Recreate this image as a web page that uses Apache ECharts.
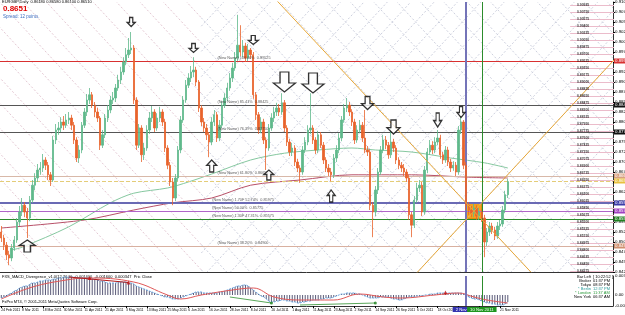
<!DOCTYPE html>
<html><head><meta charset="utf-8">
<script src="https://cdn.jsdelivr.net/npm/echarts@6/dist/echarts.min.js"></script>
<style>html,body{margin:0;padding:0;background:#fff;}#c{width:625px;height:315px;}</style>
</head><body><div id="c"></div>
<script>
// ---------- DATA ----------
const tickBars = [0,8,16,24,32,40,48,56,64,72,80,88,96,104,112,120,128,136,144,152,160,168,176,184,192];
const tickLabels = ["24 Feb 2011","8 Mar 2011","18 Mar 2011","30 Mar 2011","11 Apr 2011","21 Apr 2011","3 May 2011","13 May 2011","25 May 2011","6 Jun 2011","16 Jun 2011","28 Jun 2011","8 Jul 2011","20 Jul 2011","1 Aug 2011","11 Aug 2011","23 Aug 2011","2 Sep 2011","14 Sep 2011","26 Sep 2011","6 Oct 2011","18 Oct 2011","28 Oct 2011","9 Nov 2011","21 Nov 2011"];

const firstOpen = 0.8525;
const closes = [0.8510,0.8492,0.8468,0.8460,0.8485,0.8505,0.8550,0.8575,0.8592,0.8575,
0.8560,0.8605,0.8642,0.8660,0.8680,0.8685,0.8705,0.8692,0.8668,0.8655,
0.8755,0.8780,0.8785,0.8800,0.8792,0.8805,0.8810,0.8792,0.8755,0.8710,
0.8730,0.8792,0.8825,0.8855,0.8868,0.8842,0.8825,0.8810,0.8742,0.8768,
0.8810,0.8830,0.8855,0.8860,0.8885,0.8905,0.8925,0.8950,0.8968,0.8980,
0.8985,0.8855,0.8742,0.8785,0.8718,0.8735,0.8780,0.8810,0.8825,0.8785,
0.8810,0.8825,0.8800,0.8735,0.8692,0.8650,0.8610,0.8660,0.8730,0.8805,
0.8855,0.8892,0.8910,0.8925,0.8930,0.8900,0.8835,0.8800,0.8785,0.8768,
0.8750,0.8800,0.8818,0.8760,0.8792,0.8842,0.8860,0.8885,0.8910,0.8935,
0.8960,0.8992,0.8975,0.8990,0.8960,0.8980,0.8968,0.8868,0.8818,0.8780,
0.8800,0.8755,0.8735,0.8785,0.8810,0.8825,0.8835,0.8825,0.8848,0.8785,
0.8750,0.8725,0.8735,0.8700,0.8685,0.8675,0.8730,0.8750,0.8780,0.8785,
0.8755,0.8730,0.8768,0.8742,0.8705,0.8685,0.8675,0.8668,0.8710,0.8730,
0.8760,0.8805,0.8835,0.8842,0.8825,0.8800,0.8755,0.8780,0.8792,0.8760,
0.8730,0.8725,0.8592,0.8575,0.8630,0.8675,0.8730,0.8755,0.8742,0.8718,
0.8750,0.8735,0.8705,0.8692,0.8685,0.8675,0.8660,0.8568,0.8542,0.8605,
0.8635,0.8642,0.8575,0.8680,0.8725,0.8742,0.8730,0.8750,0.8760,0.8718,
0.8705,0.8730,0.8700,0.8685,0.8692,0.8675,0.8780,0.8800,0.8692,0.8592,
0.8580,0.8572,0.8585,0.8565,0.8575,0.8560,0.8500,0.8525,0.8540,0.8530,
0.8515,0.8540,0.8545,0.8580,0.8618,0.8651];
const highs = [0.8540,0.8518,0.8500,0.8478,0.8495,0.8515,0.8560,0.8590,0.8610,0.8600,
0.8585,0.8615,0.8655,0.8672,0.8695,0.8700,0.8720,0.8712,0.8700,0.8675,
0.8765,0.8795,0.8800,0.8812,0.8815,0.8820,0.8825,0.8818,0.8800,0.8762,
0.8742,0.8800,0.8835,0.8870,0.8885,0.8875,0.8850,0.8835,0.8815,0.8780,
0.8820,0.8842,0.8865,0.8875,0.8895,0.8918,0.8938,0.8962,0.8985,0.9010,
0.9025,0.8992,0.8862,0.8795,0.8792,0.8748,0.8792,0.8825,0.8840,0.8832,
0.8822,0.8838,0.8832,0.8808,0.8742,0.8700,0.8660,0.8670,0.8740,0.8815,
0.8865,0.8905,0.8922,0.8940,0.8962,0.8938,0.8905,0.8842,0.8810,0.8795,
0.8775,0.8812,0.8830,0.8825,0.8805,0.8852,0.8872,0.8898,0.8922,0.8948,
0.8975,0.9068,0.9042,0.9005,0.8998,0.8995,0.8985,0.8975,0.8875,0.8825,
0.8812,0.8808,0.8762,0.8795,0.8822,0.8838,0.8848,0.8845,0.8872,0.8855,
0.8792,0.8758,0.8748,0.8742,0.8708,0.8692,0.8740,0.8762,0.8792,0.8872,
0.8792,0.8762,0.8778,0.8775,0.8750,0.8712,0.8695,0.8685,0.8720,0.8742,
0.8772,0.8815,0.8845,0.8860,0.8850,0.8832,0.8808,0.8792,0.8805,0.8800,
0.8830,0.8740,0.8732,0.8600,0.8640,0.8685,0.8740,0.8768,0.8765,0.8750,
0.8785,0.8758,0.8742,0.8712,0.8700,0.8695,0.8682,0.8668,0.8575,0.8615,
0.8648,0.8655,0.8650,0.8690,0.8735,0.8755,0.8752,0.8762,0.8780,0.8768,
0.8725,0.8740,0.8738,0.8708,0.8702,0.8700,0.8790,0.8815,0.8805,0.8700,
0.8600,0.8590,0.8595,0.8592,0.8585,0.8582,0.8568,0.8535,0.8550,0.8548,
0.8538,0.8550,0.8555,0.8590,0.8628,0.8658];
const lows = [0.8500,0.8480,0.8455,0.8442,0.8452,0.8478,0.8498,0.8540,0.8565,0.8562,
0.8510,0.8552,0.8598,0.8630,0.8650,0.8668,0.8675,0.8680,0.8655,0.8640,
0.8650,0.8745,0.8768,0.8775,0.8780,0.8785,0.8795,0.8780,0.8745,0.8700,
0.8698,0.8722,0.8785,0.8815,0.8845,0.8835,0.8812,0.8800,0.8730,0.8735,
0.8760,0.8800,0.8822,0.8845,0.8850,0.8878,0.8895,0.8918,0.8942,0.8960,
0.8970,0.8845,0.8730,0.8735,0.8700,0.8705,0.8728,0.8770,0.8800,0.8775,
0.8778,0.8800,0.8790,0.8725,0.8682,0.8640,0.8592,0.8602,0.8652,0.8722,
0.8798,0.8848,0.8885,0.8900,0.8912,0.8890,0.8825,0.8790,0.8775,0.8755,
0.8712,0.8742,0.8790,0.8750,0.8752,0.8785,0.8835,0.8852,0.8878,0.8900,
0.8928,0.8952,0.8965,0.8962,0.8950,0.8952,0.8958,0.8858,0.8805,0.8770,
0.8772,0.8745,0.8680,0.8728,0.8778,0.8800,0.8815,0.8815,0.8818,0.8775,
0.8740,0.8715,0.8715,0.8690,0.8675,0.8648,0.8668,0.8722,0.8742,0.8770,
0.8745,0.8720,0.8722,0.8735,0.8695,0.8675,0.8665,0.8652,0.8660,0.8700,
0.8722,0.8752,0.8798,0.8825,0.8815,0.8790,0.8745,0.8748,0.8772,0.8750,
0.8722,0.8715,0.8580,0.8512,0.8565,0.8620,0.8668,0.8722,0.8732,0.8708,
0.8710,0.8725,0.8695,0.8682,0.8675,0.8665,0.8650,0.8555,0.8512,0.8535,
0.8598,0.8625,0.8565,0.8568,0.8672,0.8718,0.8720,0.8722,0.8742,0.8708,
0.8695,0.8698,0.8690,0.8675,0.8678,0.8665,0.8668,0.8770,0.8682,0.8580,
0.8568,0.8562,0.8562,0.8555,0.8555,0.8550,0.8462,0.8490,0.8515,0.8520,
0.8505,0.8508,0.8530,0.8538,0.8572,0.8610];

const greenMA = [[4,0.8480],[8,0.8487],[26,0.8538],[42,0.8598],[51,0.8622],[64,0.8635],[72,0.8650],[81,0.8670],[96,0.8705],[109,0.8722],[122,0.8730],[135,0.8735],[144,0.8730],[158,0.8725],[173,0.8710],[186,0.8698],[195,0.8685]];
const maroonMA = [[0,0.8535],[32,0.8555],[51,0.8580],[66,0.8598],[81,0.8610],[96,0.8642],[115,0.8655],[135,0.8668],[158,0.8668],[180,0.8662],[195,0.8660]];

const levelPrices = [0.89525,0.88425,0.87750,0.86650,0.86525,0.85975,0.85775,0.85575,0.84900];
const levelTexts = ["(New Name) 100.00%  0.89525","(New Name) 85.41%  0.88425","(New Name) 76.39%  0.87750","(New Name) 61.80%  0.86650","","(New Name) 1.70F 52.74%  0.85975","(New Name) 50.00%  0.85775","(New Name) 1.30F 47.31%  0.85575","(New Name) 38.20%  0.84900"];
const bidPrice = 0.8635;

const vLineBars = [179,185];
const vLineTexts = ["2 Nov 2011","10 Nov 2011"];
const boxBars = [179,185];
const boxPrices = [0.85575,0.85975];

const fanLines = [[[106,0.9104],[204,0.8424]],[[160,0.8423],[236,0.8956]]];

const downArrows = [[50,0.9050],[74,0.8985],[97,0.9005],[109,0.8900],[120,0.88975],[141,0.88475],[151,0.87875],[168,0.8805],[177,0.8825]];
const upArrows = [[10,0.8490],[81,0.8690],[103,0.86675],[127,0.8615]];

const ladderLevels = [0.90925,0.90750,0.90575,0.90400,0.90225,0.90050,0.89875,0.89700,0.89525,0.89350,0.89175,0.89000,0.88825,0.88650,0.88475,0.88300,0.88125,0.87950,0.87775,0.87600,0.87425,0.87250,0.87075,0.86900,0.86725,0.86550,0.86375,0.86200,0.86025,0.85850,0.85675,0.85500,0.85325,0.85150,0.84975,0.84800,0.84625,0.84450,0.84275];

const macd = [-0.0006,-0.0004,-0.0002,0.0002,0.0004,0.0008,0.0010,0.0014,0.0016,0.0018,
0.0018,0.0022,0.0024,0.0024,0.0026,0.0028,0.0028,0.0030,0.0030,0.0030,
0.0032,0.0032,0.0034,0.0034,0.0036,0.0036,0.0036,0.0036,0.0036,0.0034,
0.0034,0.0034,0.0034,0.0034,0.0034,0.0032,0.0032,0.0030,0.0028,0.0028,
0.0026,0.0024,0.0024,0.0024,0.0024,0.0026,0.0026,0.0026,0.0026,0.0024,
0.0024,0.0022,0.0018,0.0016,0.0014,0.0012,0.0010,0.0008,0.0006,0.0004,
0.0002,0,-0.0002,-0.0004,-0.0004,-0.0006,-0.0008,-0.0008,-0.0008,-0.0006,
-0.0004,-0.0002,0,0.0002,0.0004,0.0006,0.0006,0.0006,0.0004,0.0004,
0.0004,0.0004,0.0004,0.0004,0.0006,0.0006,0.0008,0.0010,0.0012,0.0014,
0.0016,0.0018,0.0018,0.0020,0.0020,0.0018,0.0014,0.0010,0.0006,0.0002,
-0.0002,-0.0004,-0.0008,-0.0012,-0.0014,-0.0014,-0.0012,-0.0012,-0.0010,-0.0010,
-0.0012,-0.0012,-0.0014,-0.0014,-0.0016,-0.0016,-0.0014,-0.0014,-0.0012,-0.0012,
-0.0010,-0.0010,-0.0010,-0.0008,-0.0008,-0.0006,-0.0006,-0.0006,-0.0004,-0.0002,
0,0.0002,0.0002,0.0004,0.0004,0.0004,0.0004,0.0002,0.0002,0,
-0.0002,-0.0004,-0.0006,-0.0006,-0.0006,-0.0006,-0.0004,-0.0004,-0.0004,-0.0004,
-0.0006,-0.0008,-0.0008,-0.0010,-0.0010,-0.0008,-0.0006,-0.0004,-0.0004,-0.0004,
-0.0002,-0.0002,-0.0002,0,0,0.0002,0.0002,0.0002,0.0004,0.0004,
0.0004,0.0004,0.0004,0.0004,0.0004,0.0004,0.0004,0.0004,0.0002,0,
-0.0004,-0.0006,-0.0008,-0.0008,-0.0010,-0.0012,-0.0014,-0.0016,-0.0016,-0.0018,
-0.0018,-0.0020,-0.0020,-0.0020,-0.0018,-0.0014];
const signal = [[0,-0.0008],[12,0.0016],[25,0.0030],[33,0.0034],[51,0.0026],[64,0],[69,-0.0008],[77,0],[89,0.0010],[97,0.0014],[105,-0.0004],[115,-0.0010],[128,-0.0010],[138,0.0002],[147,-0.0004],[154,-0.0006],[167,0],[176,0.0004],[182,-0.0004],[187,-0.0010],[195,-0.0016]];
const bearDiv = [[[26,0.0036],[49,0.0025]]];
const bearMarks = [[34,0.0034],[49,0.0025],[171,0.0005]];
const bullDiv = [[[88,-0.0004],[104,-0.0016]],[[115,-0.0020],[144,-0.0016]]];
const bullMarks = [[104,-0.0016],[144,-0.0016]];
const macdAxisTicks = [-0.0022,0,0.0038];

const clockNames = ["Bar Left","Broker","Tokyo","* Berlin","* London","New York"];
const clockTimes = ["[ 10:22:52 ]","01:37 PM","08:37 PM","12:37 PM","11:37 AM","06:37 AM"];

// ---------- STYLE / LAYOUT ----------
const N_SLOTS = 236;                 // bar slots across the window (incl. chart shift)
const slots = Array.from({length:N_SLOTS},(_,i)=>i);
const Y_MIN = 0.8425, Y_MAX = 0.9100;
const levelStyles = [
 {c:'#d83030',w:1,t:'solid',box:'#d83030'},
 {c:'#555555',w:1,t:'solid',box:'#111111'},
 {c:'#555555',w:1,t:'solid',box:'#111111'},
 {c:'#d8b8a8',w:1,t:'solid',box:'#d9a080'},
 {c:'#e4cc78',w:1,t:'dashed',box:'#e8c040'},
 {c:'#6a6ab4',w:2,t:'solid',box:'#3c3ca8'},
 {c:'#b066c8',w:1,t:'solid',box:'#a040c0'},
 {c:'#2a8a2a',w:1,t:'solid',box:'#208020'},
 {c:'#d8b0a0',w:1,t:'solid',box:'#d09070'}
];
const levelLabelBars = [83,83,83,83,83,81,81,81,83];
const downArrowSizes = [[8,9],[9,9],[10,9],[22,20],[22,20],[12,13],[13,14],[8,14],[8,11]];
const upArrowSizes = [[16,12],[10,12],[10,10],[8,12]];
const vLineStyles = [{c:'#7474b8',w:2,box:'#3434b0'},{c:'#2c8c2c',w:1,box:'#1e961e'}];

const opens = [firstOpen].concat(closes.slice(0,-1));
const candles = closes.map((c,k)=>[opens[k],c,lows[k],highs[k]]);

// Gann grid drawing tool: anchor, step and slope
const gannCenter=[182,0.85775], gannStepBars=9, gannSlope=0.0007, gannCrossFrom=77;
function gLine(kc,dir,a,b){
  let k1=kc+(Y_MIN-gannCenter[1])/(dir*gannSlope), k2=kc+(Y_MAX-gannCenter[1])/(dir*gannSlope);
  if(k1>k2){const t=k1;k1=k2;k2=t;}
  const lo=Math.max(a,Math.floor(k1)), hi=Math.min(b,Math.ceil(k2));
  if(hi<=lo) return null;
  return [[lo,gannCenter[1]+dir*gannSlope*(lo-kc)],[hi,gannCenter[1]+dir*gannSlope*(hi-kc)]];
}
const gannSegs=[];
for(let j=-25;j<=16;j++){
  const kc=gannCenter[0]+gannStepBars*j;
  let s=gLine(kc,-1,-1,gannCrossFrom);
  if(s) gannSegs.push({coords:s,lineStyle:{color:'#e4c8d3',type:[2,2],width:1,opacity:1}});
  s=gLine(kc,-1,gannCrossFrom,N_SLOTS+1);
  if(s) gannSegs.push({coords:s,lineStyle:{color:'#cdd0de',type:[2,2],width:1,opacity:1}});
  s=gLine(kc,1,gannCrossFrom,N_SLOTS+1);
  if(s) gannSegs.push({coords:s,lineStyle:{color:'#cdd0de',type:[2,2],width:1,opacity:1}});
}

const FONT='Liberation Sans, Arial, sans-serif';
const downPath='path://M3,0L7,0L7,5.5L10,5.5L5,10L0,5.5L3,5.5Z';
const upPath='path://M5,0L10,4.5L7,4.5L7,10L3,10L3,4.5L0,4.5Z';

const boxLabel=(txt,bg)=>({show:true,position:'end',distance:1,formatter:txt,backgroundColor:bg,color:'#fff',fontSize:4.4,padding:[1,1,0,1],fontFamily:FONT});
const hMarks = levelPrices.map((p,i)=>({yAxis:p,lineStyle:{color:levelStyles[i].c,width:levelStyles[i].w,type:levelStyles[i].t,opacity:1},
  label:boxLabel(p.toFixed(5),levelStyles[i].box)}));
hMarks.push({yAxis:bidPrice,lineStyle:{width:0,opacity:0},label:boxLabel(bidPrice.toFixed(5),'#111')});
const vMarksMain = vLineBars.map((k,i)=>({xAxis:k,lineStyle:{color:vLineStyles[i].c,width:vLineStyles[i].w,type:'solid',opacity:1},label:{show:false}}));
const vMarksMacd = vLineBars.map((k,i)=>({xAxis:k,lineStyle:{color:vLineStyles[i].c,width:vLineStyles[i].w,type:'solid',opacity:1},
  label:{show:true,position:'start',distance:1,formatter:vLineTexts[i],backgroundColor:vLineStyles[i].box,color:'#fff',fontSize:4.2,padding:[1,3,0,3],fontFamily:FONT}}));

const texts=[
 {type:'text',left:2,top:0,style:{text:'EURGBP,Daily  0.86180 0.86580 0.86100 0.86510',fontSize:4,fontFamily:FONT,fill:'#000'}},
 {type:'text',left:3,top:5,style:{text:'0.8651',fontSize:8,fontWeight:'bold',fontFamily:FONT,fill:'#e00000'}},
 {type:'text',left:3,top:14,style:{text:'Spread: 12 points.',fontSize:4.5,fontFamily:FONT,fill:'#3a6cc0'}},
 {type:'text',left:2,top:275,style:{text:'FXS_MACD_Divergence_v1.0(12,26,9)  -0.001400  -0.001600  0.000347  Pric Close',fontSize:4,fontFamily:FONT,fill:'#000'}},
 {type:'text',left:2,top:300,style:{text:'FxPro MT4, \u00a9 2001-2011 MetaQuotes Software Corp.',fontSize:4,fontFamily:FONT,fill:'#000'}}
];
const clockColors=['#000','#000','#000','#2a9a9a','#2a9a3a','#000'];
clockNames.forEach((n,i)=>{
  texts.push({type:'text',x:591,y:275+i*4,style:{text:n,fontSize:4,fontFamily:FONT,fill:clockColors[i],align:'right'}});
  texts.push({type:'text',x:593,y:275+i*4,style:{text:clockTimes[i],fontSize:4,fontFamily:FONT,fill:clockColors[i],align:'left'}});
});

const catAxis=(gi,withLabels)=>({type:'category',gridIndex:gi,data:slots,boundaryGap:true,
  axisLine:{show:true,onZero:false,lineStyle:{color:'#333',width:1}},
  axisTick:{show:withLabels,length:2,alignWithLabel:true,interval:(i)=>tickBars.indexOf(i)>=0,lineStyle:{color:'#000'}},
  axisLabel:{show:withLabels,showMinLabel:true,hideOverlap:false,interval:(i)=>tickBars.indexOf(i)>=0,formatter:(v,i)=>{const t=tickBars.indexOf(Number(v));return t>=0?tickLabels[t]:'';},
    fontSize:3.4,color:'#000',align:'left',margin:3,fontFamily:FONT},
  splitLine:{show:false}});

const option={
 animation:false,
 backgroundColor:'#ffffff',
 textStyle:{fontFamily:FONT},
 grid:[{left:0,right:12,top:2,height:270,containLabel:false,outerBoundsMode:'none'},
       {left:0,right:12,top:276,height:30,containLabel:false,outerBoundsMode:'none'}],
 xAxis:[catAxis(0,false),catAxis(1,true)],
 yAxis:[
  {type:'value',gridIndex:0,position:'right',min:Y_MIN,max:Y_MAX,interval:0.0025,axisLine:{show:true,lineStyle:{color:'#333'}},axisTick:{show:true,length:2,lineStyle:{color:'#000'}},
   axisLabel:{fontSize:4.4,color:'#000',margin:2,formatter:v=>v.toFixed(5),fontFamily:FONT},splitLine:{show:false}},
  {type:'value',gridIndex:1,position:'right',min:-0.0022,max:0.0038,axisLine:{show:true,lineStyle:{color:'#333'}},axisTick:{show:false},
   axisLabel:{fontSize:4.4,color:'#000',margin:2,customValues:macdAxisTicks,formatter:v=>Math.abs(v)<1e-9?'0.00':v.toFixed(6),fontFamily:FONT},splitLine:{show:false}}
 ],
 graphic:texts,
 series:[
  {type:'lines',coordinateSystem:'cartesian2d',xAxisIndex:0,yAxisIndex:0,silent:true,z:1,clip:true,data:gannSegs,lineStyle:{opacity:1}},
  {type:'lines',coordinateSystem:'cartesian2d',xAxisIndex:0,yAxisIndex:0,silent:true,z:2,clip:true,
   data:ladderLevels.map(p=>({coords:[[219,p],[N_SLOTS,p]]})),lineStyle:{color:'#ebbccb',width:1,opacity:1}},
  {type:'line',xAxisIndex:0,yAxisIndex:0,z:3,data:maroonMA,showSymbol:false,smooth:0.3,lineStyle:{color:'#b85068',width:1},
   markLine:{silent:true,symbol:['none','none'],animation:false,precision:5,data:hMarks.concat(vMarksMain)},
   markArea:{silent:true,itemStyle:{color:'#f4a21c',borderColor:'#c87800',borderWidth:1,opacity:1},
     data:[[{xAxis:boxBars[0],yAxis:boxPrices[0]},{xAxis:boxBars[1],yAxis:boxPrices[1]}]]}},
  {type:'line',xAxisIndex:0,yAxisIndex:0,z:4,data:greenMA,showSymbol:false,smooth:0.3,lineStyle:{color:'#86c8a0',width:1}},
  {type:'candlestick',xAxisIndex:0,yAxisIndex:0,z:5,barWidth:1.9,data:candles,
   itemStyle:{color:'#5fb98b',color0:'#e8632c',borderColor:'#5fb98b',borderColor0:'#e8632c',borderWidth:0.8}},
  {type:'lines',coordinateSystem:'cartesian2d',xAxisIndex:0,yAxisIndex:0,silent:true,z:6,clip:true,
   data:fanLines.map(c=>({coords:c})),lineStyle:{color:'#e8a838',width:1,opacity:1}},
  {type:'scatter',xAxisIndex:0,yAxisIndex:0,z:7,silent:true,symbolSize:1,itemStyle:{color:'transparent'},
   data:ladderLevels.map(p=>[224,p]),label:{show:true,position:'inside',formatter:q=>q.value[1].toFixed(5),fontSize:3.4,fontWeight:'bold',color:'#111',fontFamily:FONT}},
  {type:'scatter',xAxisIndex:0,yAxisIndex:0,z:8,silent:true,symbol:downPath,
   data:downArrows.map((d,i)=>({value:d,symbolSize:downArrowSizes[i]})),itemStyle:{color:'#fff',borderColor:'#000',borderWidth:1.3}},
  {type:'scatter',xAxisIndex:0,yAxisIndex:0,z:8,silent:true,symbol:upPath,
   data:upArrows.map((d,i)=>({value:d,symbolSize:upArrowSizes[i]})),itemStyle:{color:'#fff',borderColor:'#000',borderWidth:1.3}},
  {type:'scatter',xAxisIndex:0,yAxisIndex:0,z:7,silent:true,symbolSize:1,itemStyle:{color:'transparent'},
   data:levelPrices.map((p,i)=>[levelLabelBars[i],p]),
   label:{show:true,position:'right',distance:0,offset:[0,-3],formatter:q=>levelTexts[q.dataIndex],fontSize:3.8,fontFamily:FONT,color:'#333'}},
  // MACD panel
  {type:'bar',xAxisIndex:1,yAxisIndex:1,z:2,barWidth:1,data:macd,itemStyle:{color:'#5a5a78'},
   markLine:{silent:true,symbol:['none','none'],animation:false,data:vMarksMacd}},
  {type:'line',xAxisIndex:1,yAxisIndex:1,z:3,data:macd,showSymbol:false,smooth:0.4,lineStyle:{color:'#6aa6e0',width:1,type:[2,1]}},
  {type:'line',xAxisIndex:1,yAxisIndex:1,z:3,data:signal,showSymbol:false,smooth:0.4,lineStyle:{color:'#e05858',width:1}},
  {type:'lines',coordinateSystem:'cartesian2d',xAxisIndex:1,yAxisIndex:1,silent:true,z:4,data:bearDiv.map(c=>({coords:c})),lineStyle:{color:'#b01818',width:1,opacity:1}},
  {type:'lines',coordinateSystem:'cartesian2d',xAxisIndex:1,yAxisIndex:1,silent:true,z:4,data:bullDiv.map(c=>({coords:c})),lineStyle:{color:'#5aa85a',width:1,opacity:1}},
  {type:'scatter',xAxisIndex:1,yAxisIndex:1,z:5,silent:true,symbol:'triangle',symbolSize:4,data:bearMarks,itemStyle:{color:'#c01010'}},
  {type:'scatter',xAxisIndex:1,yAxisIndex:1,z:5,silent:true,symbol:'circle',symbolSize:3,data:bullMarks,itemStyle:{color:'#1a801a'}}
 ]
};
const chart=echarts.init(document.getElementById('c'),null,{renderer:'canvas',width:625,height:315});
chart.setOption(option);
</script></body></html>
